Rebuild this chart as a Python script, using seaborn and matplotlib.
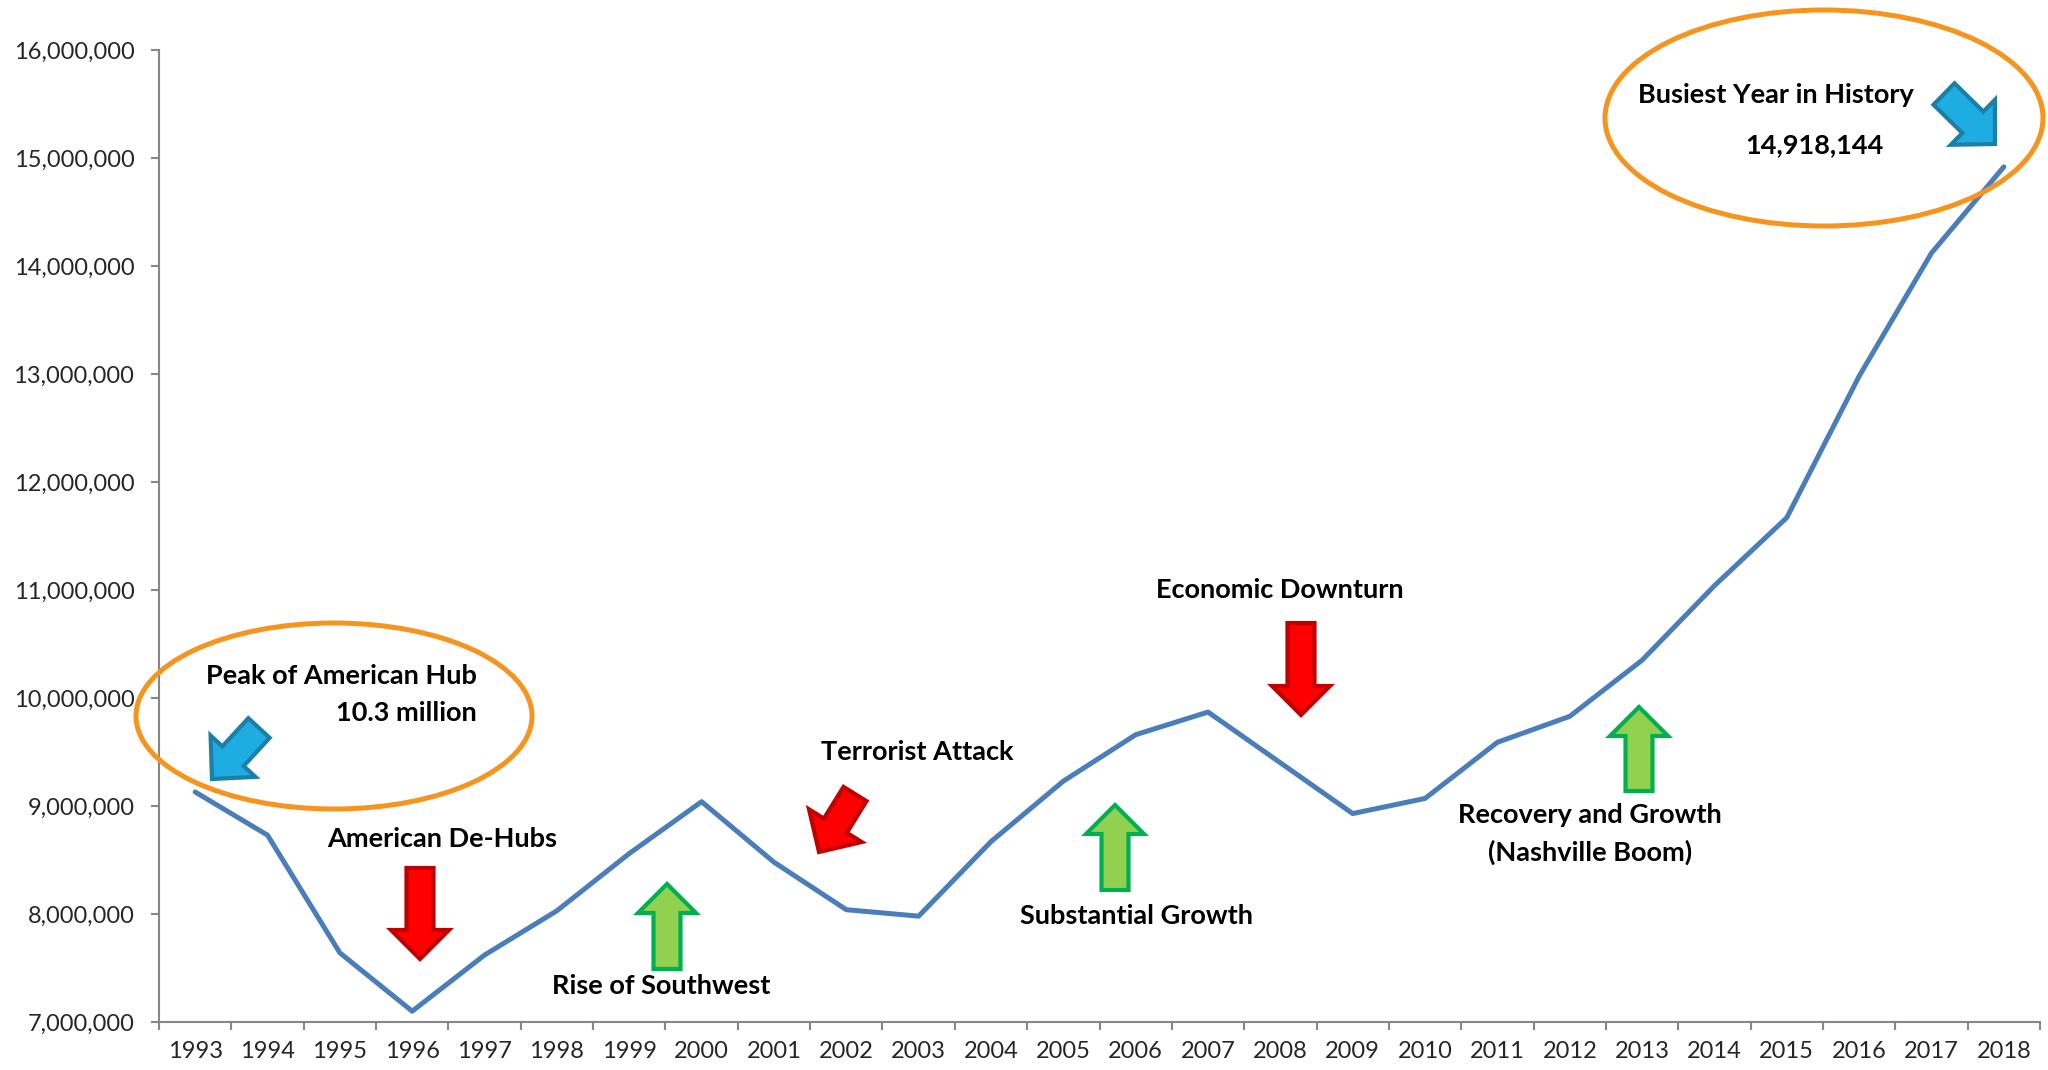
import numpy as np
import pandas as pd
import matplotlib
matplotlib.use("Agg")
import matplotlib.pyplot as plt
import matplotlib.patches as mpatches
from matplotlib.ticker import FuncFormatter
import seaborn as sns

# ------------------------------------------------------------
# Data: annual passengers
# ------------------------------------------------------------
years = list(range(1993, 2019))
passengers = [9130000, 8730000, 7640000, 7100000, 7620000, 8030000, 8560000,
              9040000, 8480000, 8040000, 7980000, 8670000, 9230000, 9660000,
              9870000, 9400000, 8930000, 9070000, 9590000, 9830000, 10350000,
              11040000, 11670000, 12980000, 14120000, 14918144]
y_ticks = list(range(7000000, 16000001, 1000000))

df = pd.DataFrame({"year": years, "passengers": passengers})

# ------------------------------------------------------------
# Style
# ------------------------------------------------------------
sns.set_theme(style="white")
plt.rcParams["font.family"] = ["Lato", "DejaVu Sans"]

W, H = 2048, 1070
fig = plt.figure(figsize=(W / 100, H / 100), dpi=100)
ax = fig.add_axes([159 / W, 48 / H, (2040 - 159) / W, (1022 - 50) / H])

sns.lineplot(data=df, x="year", y="passengers", color="#4A7EBB",
             linewidth=3.6, ax=ax)

# axes
ax.set_xlim(1992.5, 2018.5)
ax.set_ylim(y_ticks[0], y_ticks[-1])
ax.set_yticks(y_ticks)
ax.yaxis.set_major_formatter(FuncFormatter(lambda v, p: f"{int(v):,}"))
ax.set_xticks(np.arange(1992.5, 2019, 1))
ax.set_xticklabels([])
ax.set_xticks(years, minor=True)
ax.set_xticklabels([str(y) for y in years], minor=True)
ax.set_xlabel("")
ax.set_ylabel("")

axis_grey = "#868686"
for s in ["top", "right"]:
    ax.spines[s].set_visible(False)
for s in ["left", "bottom"]:
    ax.spines[s].set_color(axis_grey)
    ax.spines[s].set_linewidth(1.5)

ax.tick_params(axis="y", which="major", direction="out", length=5.8, width=1.5,
               color=axis_grey, labelsize=17, pad=12, left=True)
ax.tick_params(axis="x", which="major", direction="out", length=5.8, width=1.5,
               color=axis_grey, bottom=True)
ax.tick_params(axis="x", which="minor", length=0, labelsize=17, pad=14)

# ------------------------------------------------------------
# Annotation layer (pixel coordinates)
# ------------------------------------------------------------
ov = fig.add_axes([0, 0, 1, 1])
ov.set_xlim(0, W)
ov.set_ylim(H, 0)
ov.axis("off")

orange = "#F7941E"
red_fc, red_ec = "#FF0000", "#C00000"
green_fc, green_ec = "#92D050", "#00B050"
blue_fc, blue_ec = "#1DADE2", "#1B7FA6"


def block_arrow(tail, tip, fc, ec, shaft=27, head=58, head_len=29):
    dx, dy = tip[0] - tail[0], tip[1] - tail[1]
    arr = mpatches.FancyArrow(tail[0], tail[1], dx, dy, width=shaft,
                              head_width=head, head_length=head_len,
                              length_includes_head=True, fc=fc, ec=ec,
                              linewidth=3, joinstyle="miter")
    ov.add_patch(arr)


def label(x, y, s, ha="center"):
    ov.text(x, y, s, ha=ha, va="center", fontsize=19.5, fontweight="bold",
            color="black")


# ellipses
ov.add_patch(mpatches.Ellipse((334, 716), 396, 186, fill=False, ec=orange, lw=3.6))
ov.add_patch(mpatches.Ellipse((1824, 118), 438, 216, fill=False, ec=orange, lw=3.6))

# peak of American hub
label(477, 676, "Peak of American Hub", ha="right")
label(477, 713, "10.3 million", ha="right")
block_arrow((259, 728), (212, 779), blue_fc, blue_ec, shaft=29, head=61, head_len=31)

# American de-hubs
label(442, 839, "American De-Hubs")
block_arrow((420, 868), (420, 959), red_fc, red_ec)

# Rise of Southwest
label(661, 986, "Rise of Southwest")
block_arrow((667, 969), (667, 884), green_fc, green_ec)

# Terrorist attack
label(917, 752, "Terrorist Attack")
block_arrow((855, 794), (819, 852), red_fc, red_ec, head=62, head_len=31)

# Substantial growth
label(1136, 916, "Substantial Growth")
block_arrow((1115, 890), (1115, 805), green_fc, green_ec)

# Economic downturn
label(1280, 590, "Economic Downturn")
block_arrow((1301, 623), (1301, 715), red_fc, red_ec)

# Recovery and growth
label(1590, 815, "Recovery and Growth")
label(1590, 852, "(Nashville Boom)")
block_arrow((1639, 791), (1639, 707), green_fc, green_ec)

# Busiest year
label(1776, 95, "Busiest Year in History")
label(1814, 145, "14,918,144")
block_arrow((1944, 94), (1995, 144), blue_fc, blue_ec, shaft=30, head=63, head_len=31)

fig.savefig("out.png", dpi=100)
